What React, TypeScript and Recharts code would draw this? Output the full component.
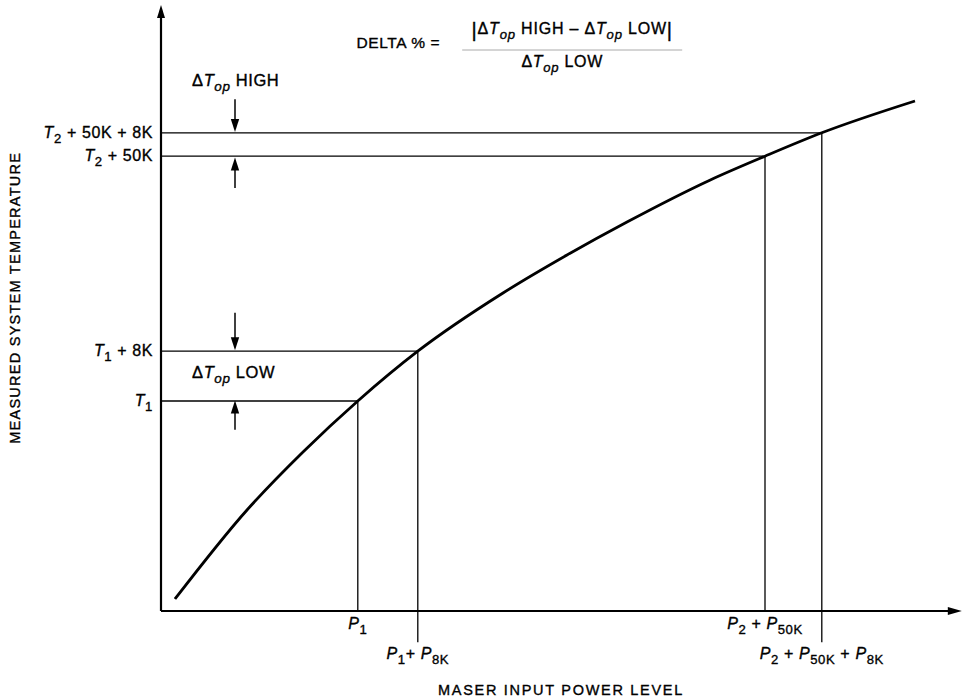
import React from 'react';
import { LineChart, Line, XAxis, YAxis, ReferenceLine, ReferenceDot } from 'recharts';

type Seg = [string, string];

// Curve (arbitrary units)
const curveX = [1.75, 10.75, 17.75, 24.6, 32.1, 42.75, 50.75, 58.25, 68.6, 75.5, 82.6, 94.25];
const curveY = [2.0, 16.83, 26.5, 35, 43.3, 53, 59.33, 64.83, 71.8, 75.8, 79.7, 85];

// Power levels (x ticks) and their matching temperatures (y ticks)
const xTicks = [24.6, 32.1, 75.5, 82.6];
const yTicks = [35, 43.3, 75.8, 79.7];
const xTickRow = [0, 1, 0, 1];
const xGuideBottom = [0, -5.2, 0, -5.2];

const xTickLabels: Seg[][] = [
  [['P', 'i'], ['1', 's']],
  [['P', 'i'], ['1', 's'], ['+ ', 'n'], ['P', 'i'], ['8K', 's']],
  [['P', 'i'], ['2', 's'], [' + ', 'n'], ['P', 'i'], ['50K', 's']],
  [['P', 'i'], ['2', 's'], [' + ', 'n'], ['P', 'i'], ['50K', 's'], [' + ', 'n'], ['P', 'i'], ['8K', 's']],
];
const yTickLabels: Seg[][] = [
  [['T', 'i'], ['1', 's']],
  [['T', 'i'], ['1', 's'], [' + 8K', 'n']],
  [['T', 'i'], ['2', 's'], [' + 50K', 'n']],
  [['T', 'i'], ['2', 's'], [' + 50K + 8K', 'n']],
];

// Delta arrows
const arrowX = [9.25, 9.25, 9.25, 9.25];
const arrowFrom = [85.3, 70.5, 49.7, 30.2];
const arrowTo = [79.85, 75.6, 43.45, 35.1];

// Annotation texts
const deltaHigh: Seg[] = [['Δ', 'n'], ['T', 'i'], ['op', 'si'], [' HIGH', 'n']];
const deltaLow: Seg[] = [['Δ', 'n'], ['T', 'i'], ['op', 'si'], [' LOW', 'n']];
const deltaHighPos = { x: 3.875, y: 87.5 };
const deltaLowPos = { x: 3.875, y: 38.8 };
const formulaPos = { x: 51.4, y: 93.5 };
const formulaLeft = 'DELTA % =';
const formulaNum: Seg[] = [
  ['|', 'b'], ['Δ', 'n'], ['T', 'i'], ['op', 'si'], [' HIGH – ', 'n'], ['Δ', 'n'], ['T', 'i'], ['op', 'si'], [' LOW', 'n'], ['|', 'b'],
];
const formulaDen: Seg[] = [['Δ', 'n'], ['T', 'i'], ['op', 'si'], [' LOW', 'n']];

const xLabel = 'MASER INPUT POWER LEVEL';
const yLabel = 'MEASURED SYSTEM TEMPERATURE';

const data = curveX.map((x, i) => ({ x, y: curveY[i] }));

const FONT = '"Liberation Sans", Arial, Helvetica, sans-serif';
const TEXT_STROKE = 0.35;

function Rich({ segs, size, x, y, anchor, ls = 0.6 }: any) {
  let cur = 0;
  const subShift = Math.round(size * 0.3);
  return (
    <text
      x={x}
      y={y}
      textAnchor={anchor}
      fontFamily={FONT}
      fontSize={size}
      fill="#000"
      stroke="#000"
      strokeWidth={TEXT_STROKE}
      letterSpacing={ls}
      style={{ whiteSpace: 'pre' }}
    >
      {segs.map(([t, k]: Seg, i: number) => {
        const isSub = k.includes('s');
        const isBar = k === 'b';
        const target = isSub ? subShift : isBar ? 3 : 0;
        const dy = target - cur;
        cur = target;
        return (
          <tspan
            key={i}
            dy={dy}
            fontSize={isSub ? size * 0.82 : isBar ? size * 1.25 : size}
            fontStyle={k.includes('i') ? 'italic' : 'normal'}
          >
            {t}
          </tspan>
        );
      })}
    </text>
  );
}

function ArrowLine(props: any) {
  const { x1, y1, x2, y2, head = 12, half = 4, sw = 1.5 } = props;
  const dx = x2 - x1;
  const dy = y2 - y1;
  const len = Math.hypot(dx, dy) || 1;
  const ux = dx / len;
  const uy = dy / len;
  const bx = x2 - ux * head;
  const by = y2 - uy * head;
  const px = -uy * half;
  const py = ux * half;
  return (
    <g>
      <line x1={x1} y1={y1} x2={bx + ux * 2} y2={by + uy * 2} stroke="#000" strokeWidth={sw} />
      <polygon points={`${x2},${y2} ${bx + px},${by + py} ${bx - px},${by - py}`} fill="#000" />
    </g>
  );
}

const XTick = (props: any) => {
  const { x, y, payload } = props;
  const i = xTicks.indexOf(payload.value);
  if (i < 0) return null;
  const off = xTickRow[i] === 0 ? 18 : 48;
  return <Rich segs={xTickLabels[i]} size={16} x={x} y={y + off} anchor="middle" />;
};

const YTick = (props: any) => {
  const { x, y, payload } = props;
  const i = yTicks.indexOf(payload.value);
  if (i < 0) return null;
  return <Rich segs={yTickLabels[i]} size={16} x={x} y={y + 5} anchor="end" />;
};

const YLabel = (props: any) => {
  const vb = props.viewBox || { x: 0, y: 11, width: 161, height: 600 };
  const cx = vb.x + 15;
  const cy = vb.y + vb.height * 0.478;
  return (
    <text
      x={cx}
      y={cy}
      transform={`rotate(-90 ${cx} ${cy})`}
      textAnchor="middle"
      dominantBaseline="central"
      fontFamily={FONT}
      fontSize={14.5}
      letterSpacing={1.25}
      fill="#000"
      stroke="#000"
      strokeWidth={TEXT_STROKE}
    >
      {yLabel}
    </text>
  );
};

export default function App() {
  return (
    <div style={{ position: 'absolute', left: 0, top: 0, width: 964, height: 700, background: '#fff' }}>
      <LineChart width={964} height={700} data={data} margin={{ top: 11, right: 3, bottom: 0, left: 0 }}>
        <XAxis
          dataKey="x"
          type="number"
          domain={[0, 100]}
          ticks={xTicks}
          interval={0}
          tick={(p: any) => <XTick {...p} />}
          tickLine={false}
          axisLine={false}
          tickSize={0}
          tickMargin={0}
          height={89}
          label={{
            value: xLabel,
            position: 'insideBottom',
            offset: 5,
            fill: '#000',
            stroke: '#000',
            strokeWidth: TEXT_STROKE,
            fontSize: 14.5,
            fontFamily: FONT,
            letterSpacing: 1.7,
          }}
        />
        <YAxis
          type="number"
          domain={[0, 100]}
          ticks={yTicks}
          interval={0}
          tick={(p: any) => <YTick {...p} />}
          tickLine={false}
          axisLine={false}
          tickSize={6}
          tickMargin={2}
          width={161}
          label={(p: any) => <YLabel {...p} />}
        />

        {/* Axes with arrows */}
        <ReferenceLine
          segment={[{ x: 0, y: 0 }, { x: 0, y: 101 }]}
          ifOverflow="visible"
          shape={(p: any) => <ArrowLine {...p} head={13} half={4} sw={2.2} />}
        />
        <ReferenceLine
          segment={[{ x: 0, y: 0 }, { x: 100.1, y: 0 }]}
          ifOverflow="visible"
          shape={(p: any) => <ArrowLine {...p} head={14} half={4} sw={2.2} />}
        />

        {/* Horizontal guides */}
        {yTicks.map((yv, i) => (
          <ReferenceLine
            key={`h${i}`}
            segment={[{ x: 0, y: yv }, { x: xTicks[i], y: yv }]}
            ifOverflow="visible"
            stroke="#000"
            strokeWidth={1.3}
          />
        ))}
        {/* Vertical guides */}
        {xTicks.map((xv, i) => (
          <ReferenceLine
            key={`v${i}`}
            segment={[{ x: xv, y: xGuideBottom[i] }, { x: xv, y: yTicks[i] }]}
            ifOverflow="visible"
            stroke="#000"
            strokeWidth={1.3}
          />
        ))}

        {/* Delta arrows */}
        {arrowX.map((ax, i) => (
          <ReferenceLine
            key={`a${i}`}
            segment={[{ x: ax, y: arrowFrom[i] }, { x: ax, y: arrowTo[i] }]}
            ifOverflow="visible"
            shape={(p: any) => <ArrowLine {...p} head={13} half={4.2} sw={1.5} />}
          />
        ))}

        {/* Annotations */}
        <ReferenceDot
          x={deltaHighPos.x}
          y={deltaHighPos.y}
          ifOverflow="visible"
          shape={(p: any) => <Rich segs={deltaHigh} size={16.5} x={p.cx} y={p.cy} anchor="start" ls={0.6} />}
        />
        <ReferenceDot
          x={deltaLowPos.x}
          y={deltaLowPos.y}
          ifOverflow="visible"
          shape={(p: any) => <Rich segs={deltaLow} size={16.5} x={p.cx} y={p.cy} anchor="start" ls={0.6} />}
        />
        <ReferenceDot
          x={formulaPos.x}
          y={formulaPos.y}
          ifOverflow="visible"
          shape={(p: any) => (
            <g>
              <text
                x={p.cx - 132}
                y={p.cy - 2}
                textAnchor="end"
                fontFamily={FONT}
                fontSize={15.5}
                letterSpacing={0.6}
                fill="#000"
                stroke="#000"
                strokeWidth={TEXT_STROKE}
              >
                {formulaLeft}
              </text>
              <Rich segs={formulaNum} size={16} x={p.cx} y={p.cy - 16} anchor="middle" ls={0.8} />
              <line x1={p.cx - 110} y1={p.cy} x2={p.cx + 110} y2={p.cy} stroke="#aaa" strokeWidth={1} />
              <Rich segs={formulaDen} size={16} x={p.cx - 10} y={p.cy + 17} anchor="middle" ls={0.7} />
            </g>
          )}
        />

        <Line
          dataKey="y"
          type="monotone"
          stroke="#000"
          strokeWidth={2.8}
          dot={false}
          activeDot={false}
          isAnimationActive={false}
        />
      </LineChart>
    </div>
  );
}
